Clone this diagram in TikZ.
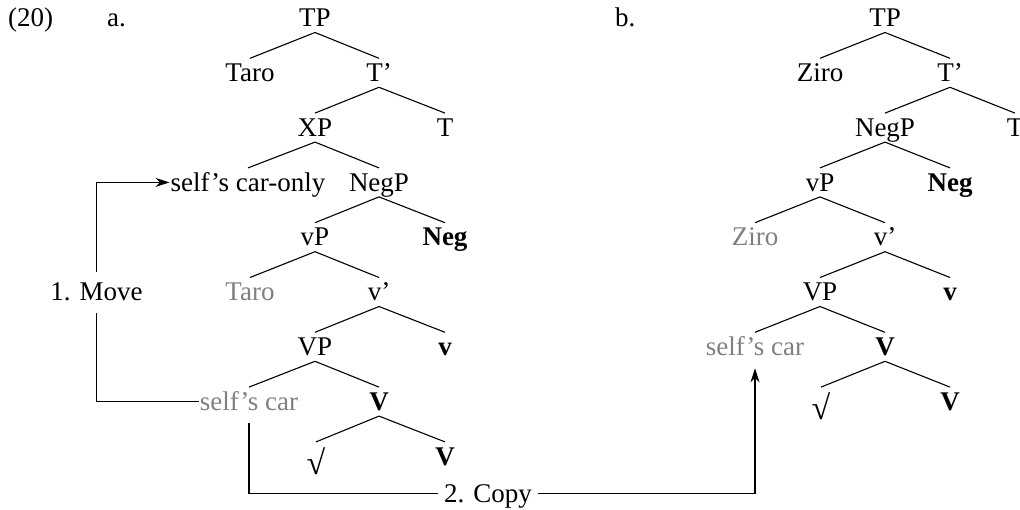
\documentclass[tikz,border=0pt]{standalone}
\usepackage{fontspec}
\setmainfont{Liberation Serif}
\usetikzlibrary{arrows.meta}
\begin{document}
\begin{tikzpicture}[x=1pt,y=-1pt,
  n/.style={font=\fontsize{27}{32}\selectfont, text height=23pt, text depth=5.6pt, inner ysep=0pt, inner xsep=1pt, anchor=base},
  b/.style={n, font=\fontsize{27}{32}\selectfont\bfseries},
  g/.style={n, text=black!50},
  rt/.style={n, font=\fontsize{34}{34}\selectfont},
  lbl/.style={n, inner ysep=6pt, inner xsep=6pt},
  edge/.style={line width=1.1pt},
  arr/.style={line width=1.1pt, -{Stealth[length=14pt,width=9pt,inset=4.5pt]}}]
\useasboundingbox (0,0) rectangle (1020,509);
% labels
\node[n, anchor=base west] (ex) at (7,26.7) {(20)};
\node[n, anchor=base west] (la) at (106,26.7) {a.};
\node[n, anchor=base west] (lb) at (614,26.7) {b.};
% tree a
\node[n] (aTP) at (315,26.7) {TP};
\node[n] (aTaro) at (250,81.5) {Taro};
\node[n] (aT1) at (379,81.5) {T’};
\node[n] (aXP) at (315,136.3) {XP};
\node[n] (aT) at (445,136.3) {T};
\node[n] (aSco) at (248,191.1) {self’s car-only};
\node[n] (aNegP) at (379,191.1) {NegP};
\node[n] (avP) at (315,245.9) {vP};
\node[b] (aNeg) at (445,245.9) {Neg};
\node[g] (aTaro2) at (250,300.7) {Taro};
\node[n] (av1) at (379,300.7) {v’};
\node[n] (aVP) at (315,355.5) {VP};
\node[b] (av) at (445,355.5) {v};
\node[g] (aSc) at (249,410.3) {self’s car};
\node[b] (aV1) at (379,410.3) {V};
\node[rt] (aRoot) at (316,465.1) {\raisebox{-9pt}{√}};
\node[b] (aV) at (445,465.1) {V};
\foreach \p/\c in {aTP/aTaro,aTP/aT1,aT1/aXP,aT1/aT,aXP/aSco,aXP/aNegP,aNegP/avP,aNegP/aNeg,avP/aTaro2,avP/av1,av1/aVP,av1/av,aVP/aSc,aVP/aV1,aV1/aRoot,aV1/aV}
  \draw[edge] (\p.south) -- (\c.north);
% tree b
\node[n] (bTP) at (885,26.7) {TP};
\node[n] (bZiro) at (820,81.5) {Ziro};
\node[n] (bT1) at (950,81.5) {T’};
\node[n] (bNegP) at (885,136.3) {NegP};
\node[n] (bT) at (1015,136.3) {T};
\node[n] (bvP) at (820,191.1) {vP};
\node[b] (bNeg) at (950,191.1) {Neg};
\node[g] (bZiro2) at (755,245.9) {Ziro};
\node[n] (bv1) at (885,245.9) {v’};
\node[n] (bVP) at (820,300.7) {VP};
\node[b] (bv) at (950,300.7) {v};
\node[g] (bSc) at (755,355.5) {self’s car};
\node[b] (bV1) at (885,355.5) {V};
\node[rt] (bRoot) at (821,410.3) {\raisebox{-9pt}{√}};
\node[b] (bV) at (950,410.3) {V};
\foreach \p/\c in {bTP/bZiro,bTP/bT1,bT1/bNegP,bT1/bT,bNegP/bvP,bNegP/bNeg,bvP/bZiro2,bvP/bv1,bv1/bVP,bv1/bv,bVP/bSc,bVP/bV1,bV1/bRoot,bV1/bV}
  \draw[edge] (\p.south) -- (\c.north);
% move
\node[lbl] (move) at (96.5,300.7) {1. Move};
\draw[edge] (aSc.west) -| (move.south);
\draw[arr] (move.north) |- (aSco.west);
% copy
\node[lbl] (copy) at (488,502) {2. Copy};
\draw[edge, shorten <=7pt] (aSc.south) |- (copy.west);
\draw[arr, shorten >=7pt] (copy.east) -| (bSc.south);
\end{tikzpicture}
\end{document}
